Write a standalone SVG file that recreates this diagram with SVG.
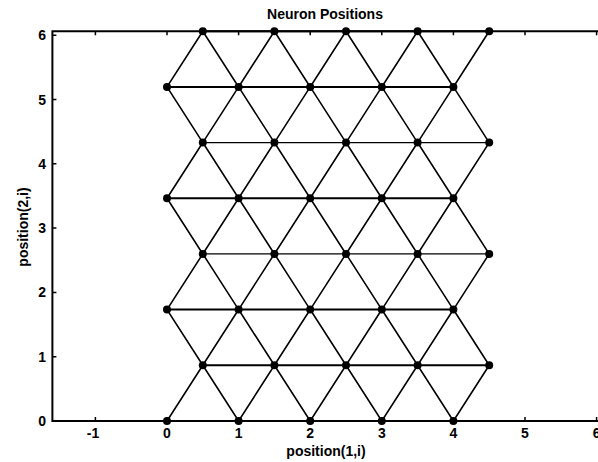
<svg xmlns="http://www.w3.org/2000/svg" width="598" height="462" viewBox="0 0 598 462">
<style>
text{font-family:"Liberation Sans",Arial,sans-serif;font-weight:bold;fill:#000}
.tk{font-size:14px}
.lbl{font-size:14px}
.ax{stroke:#000;stroke-width:2;fill:none}
.tick{stroke:#000;stroke-width:1.5;fill:none}
.c{stroke:#000;stroke-width:1.6;fill:none;stroke-linejoin:miter}
.h{stroke:#000;stroke-width:2;fill:none}
.ht{stroke:#000;stroke-width:1.2;fill:none}
.n{fill:#000}
</style>
<rect width="598" height="462" fill="#fff"/>
<g id="connectors">
<polyline class="c" points="167,421 202.8,365.3 238.6,421 274.4,365.3 310.2,421 346,365.3 381.8,421 417.6,365.3 453.4,421 489.2,365.3"/>
<polyline class="c" points="167,309.6 202.8,365.3 238.6,309.6 274.4,365.3 310.2,309.6 346,365.3 381.8,309.6 417.6,365.3 453.4,309.6 489.2,365.3"/>
<polyline class="c" points="167,309.6 202.8,253.9 238.6,309.6 274.4,253.9 310.2,309.6 346,253.9 381.8,309.6 417.6,253.9 453.4,309.6 489.2,253.9"/>
<polyline class="c" points="167,198.3 202.8,253.9 238.6,198.3 274.4,253.9 310.2,198.3 346,253.9 381.8,198.3 417.6,253.9 453.4,198.3 489.2,253.9"/>
<polyline class="c" points="167,198.3 202.8,142.6 238.6,198.3 274.4,142.6 310.2,198.3 346,142.6 381.8,198.3 417.6,142.6 453.4,198.3 489.2,142.6"/>
<polyline class="c" points="167,86.9 202.8,142.6 238.6,86.9 274.4,142.6 310.2,86.9 346,142.6 381.8,86.9 417.6,142.6 453.4,86.9 489.2,142.6"/>
<polyline class="c" points="167,86.9 202.8,31.2 238.6,86.9 274.4,31.2 310.2,86.9 346,31.2 381.8,86.9 417.6,31.2 453.4,86.9 489.2,31.2"/>
<line class="h" x1="167" y1="421" x2="453.4" y2="421"/>
<line class="h" x1="202.8" y1="365.3" x2="489.2" y2="365.3"/>
<line class="h" x1="167" y1="309.6" x2="453.4" y2="309.6"/>
<line class="ht" x1="202.8" y1="253.9" x2="489.2" y2="253.9"/>
<line class="h" x1="167" y1="198.3" x2="453.4" y2="198.3"/>
<line class="ht" x1="202.8" y1="142.6" x2="489.2" y2="142.6"/>
<line class="h" x1="167" y1="86.9" x2="453.4" y2="86.9"/>
<line class="h" x1="202.8" y1="31.2" x2="489.2" y2="31.2"/>
</g>
<g id="axes">
<path class="ax" d="M52.4,421 H600 M52.4,31.2 H600 M52.4,30.2 V422"/>
<path class="tick" d="M95.4,421 v-4 M167,421 v-4 M238.6,421 v-4 M310.2,421 v-4 M381.8,421 v-4 M453.4,421 v-4 M525,421 v-4 M596.6,421 v-4 M95.4,31.2 v4 M167,31.2 v4 M238.6,31.2 v4 M310.2,31.2 v4 M381.8,31.2 v4 M453.4,31.2 v4 M525,31.2 v4 M596.6,31.2 v4 M52.4,356.7 h4 M52.4,292.4 h4 M52.4,228.1 h4 M52.4,163.8 h4 M52.4,99.5 h4 M52.4,35.2 h4"/>
<g class="tk" text-anchor="middle">
<text x="93" y="438">-1</text>
<text x="167" y="438">0</text>
<text x="238.6" y="438">1</text>
<text x="310.2" y="438">2</text>
<text x="381.8" y="438">3</text>
<text x="453.4" y="438">4</text>
<text x="525" y="438">5</text>
<text x="596.6" y="438">6</text>
</g>
<g class="tk" text-anchor="end">
<text x="46" y="426">0</text>
<text x="46" y="361.7">1</text>
<text x="46" y="297.4">2</text>
<text x="46" y="233.1">3</text>
<text x="46" y="168.8">4</text>
<text x="46" y="104.5">5</text>
<text x="46" y="40.2">6</text>
</g>
<text class="lbl" x="325" y="18.5" text-anchor="middle" font-size="14.5">Neuron Positions</text>
<text class="lbl" x="326" y="456" text-anchor="middle">position(1,i)</text>
<text class="lbl" x="0" y="0" text-anchor="middle" font-size="13.5" transform="translate(28,227) rotate(-90)">position(2,i)</text>
</g>
<g id="nodes">
<g id="n0_0"><circle class="n" cx="167" cy="421" r="4"/></g>
<g id="n0_1"><circle class="n" cx="238.6" cy="421" r="4"/></g>
<g id="n0_2"><circle class="n" cx="310.2" cy="421" r="4"/></g>
<g id="n0_3"><circle class="n" cx="381.8" cy="421" r="4"/></g>
<g id="n0_4"><circle class="n" cx="453.4" cy="421" r="4"/></g>
<g id="n1_0"><circle class="n" cx="202.8" cy="365.3" r="4"/></g>
<g id="n1_1"><circle class="n" cx="274.4" cy="365.3" r="4"/></g>
<g id="n1_2"><circle class="n" cx="346" cy="365.3" r="4"/></g>
<g id="n1_3"><circle class="n" cx="417.6" cy="365.3" r="4"/></g>
<g id="n1_4"><circle class="n" cx="489.2" cy="365.3" r="4"/></g>
<g id="n2_0"><circle class="n" cx="167" cy="309.6" r="4"/></g>
<g id="n2_1"><circle class="n" cx="238.6" cy="309.6" r="4"/></g>
<g id="n2_2"><circle class="n" cx="310.2" cy="309.6" r="4"/></g>
<g id="n2_3"><circle class="n" cx="381.8" cy="309.6" r="4"/></g>
<g id="n2_4"><circle class="n" cx="453.4" cy="309.6" r="4"/></g>
<g id="n3_0"><circle class="n" cx="202.8" cy="253.9" r="4"/></g>
<g id="n3_1"><circle class="n" cx="274.4" cy="253.9" r="4"/></g>
<g id="n3_2"><circle class="n" cx="346" cy="253.9" r="4"/></g>
<g id="n3_3"><circle class="n" cx="417.6" cy="253.9" r="4"/></g>
<g id="n3_4"><circle class="n" cx="489.2" cy="253.9" r="4"/></g>
<g id="n4_0"><circle class="n" cx="167" cy="198.3" r="4"/></g>
<g id="n4_1"><circle class="n" cx="238.6" cy="198.3" r="4"/></g>
<g id="n4_2"><circle class="n" cx="310.2" cy="198.3" r="4"/></g>
<g id="n4_3"><circle class="n" cx="381.8" cy="198.3" r="4"/></g>
<g id="n4_4"><circle class="n" cx="453.4" cy="198.3" r="4"/></g>
<g id="n5_0"><circle class="n" cx="202.8" cy="142.6" r="4"/></g>
<g id="n5_1"><circle class="n" cx="274.4" cy="142.6" r="4"/></g>
<g id="n5_2"><circle class="n" cx="346" cy="142.6" r="4"/></g>
<g id="n5_3"><circle class="n" cx="417.6" cy="142.6" r="4"/></g>
<g id="n5_4"><circle class="n" cx="489.2" cy="142.6" r="4"/></g>
<g id="n6_0"><circle class="n" cx="167" cy="86.9" r="4"/></g>
<g id="n6_1"><circle class="n" cx="238.6" cy="86.9" r="4"/></g>
<g id="n6_2"><circle class="n" cx="310.2" cy="86.9" r="4"/></g>
<g id="n6_3"><circle class="n" cx="381.8" cy="86.9" r="4"/></g>
<g id="n6_4"><circle class="n" cx="453.4" cy="86.9" r="4"/></g>
<g id="n7_0"><circle class="n" cx="202.8" cy="31.2" r="4"/></g>
<g id="n7_1"><circle class="n" cx="274.4" cy="31.2" r="4"/></g>
<g id="n7_2"><circle class="n" cx="346" cy="31.2" r="4"/></g>
<g id="n7_3"><circle class="n" cx="417.6" cy="31.2" r="4"/></g>
<g id="n7_4"><circle class="n" cx="489.2" cy="31.2" r="4"/></g>
</g>
</svg>
